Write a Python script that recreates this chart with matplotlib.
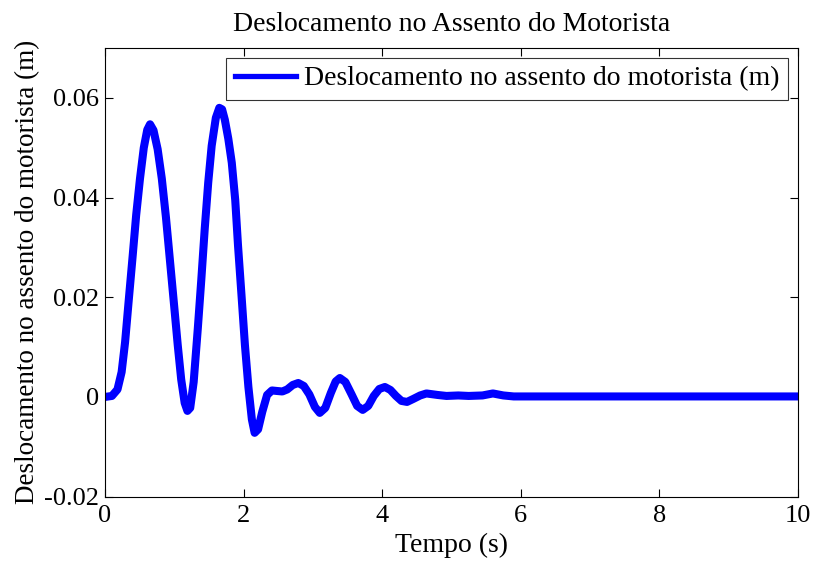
import matplotlib
matplotlib.use("Agg")
import matplotlib.pyplot as plt
from matplotlib.lines import Line2D

plt.rcParams['font.family'] = ['Liberation Serif', 'DejaVu Serif']

time_s = [0.0, 0.10, 0.18, 0.24, 0.29, 0.34, 0.40, 0.45, 0.505, 0.56, 0.61, 0.65,
          0.70, 0.76, 0.82, 0.88, 0.94, 1.00, 1.05, 1.10, 1.15, 1.19, 1.23, 1.28,
          1.34, 1.39, 1.44, 1.49, 1.54, 1.60, 1.65, 1.69, 1.73, 1.78, 1.83, 1.88,
          1.92, 1.97, 2.02, 2.07, 2.12, 2.16, 2.21, 2.27, 2.34, 2.41, 2.48, 2.56,
          2.63, 2.71, 2.79, 2.87, 2.95, 3.03, 3.10, 3.18, 3.26, 3.33, 3.39, 3.47,
          3.56, 3.64, 3.72, 3.80, 3.88, 3.96, 4.04, 4.12, 4.20, 4.28, 4.36, 4.45,
          4.55, 4.64, 4.80, 4.93, 5.10, 5.25, 5.45, 5.60, 5.75, 5.90, 6.2, 7.0,
          8.0, 9.0, 10.0]
desloc_m = [0.0, 0.0002, 0.0015, 0.005, 0.011, 0.019, 0.0284, 0.0365, 0.0438, 0.0500,
            0.0536, 0.0547, 0.0535, 0.0497, 0.0438, 0.0360, 0.0270, 0.0180, 0.0104,
            0.0035, -0.0012, -0.0028, -0.0022, 0.0030, 0.0138, 0.0235, 0.0338,
            0.0430, 0.0504, 0.0560, 0.0580, 0.0577, 0.0556, 0.0518, 0.0470, 0.0395,
            0.0304, 0.0205, 0.0104, 0.0020, -0.0045, -0.0072, -0.0065, -0.0030,
            0.0004, 0.0013, 0.0012, 0.0011, 0.0015, 0.0024, 0.0028, 0.0022, 0.0005,
            -0.0020, -0.0032, -0.0022, 0.0008, 0.0031, 0.0038, 0.0030, 0.0005,
            -0.0018, -0.0026, -0.0018, 0.0002, 0.0016, 0.0020, 0.0014, 0.0002,
            -0.0008, -0.0010, -0.0004, 0.0003, 0.0007, 0.0004, 0.0002, 0.0003,
            0.0002, 0.0003, 0.0007, 0.0003, 0.0001, 0.0001, 0.0001, 0.0001,
            0.0001, 0.0001]

x_ticks = [0, 2, 4, 6, 8, 10]
y_ticks = [-0.02, 0, 0.02, 0.04, 0.06]
y_ticklabels = ['-0.02', '0', '0.02', '0.04', '0.06']

fig = plt.figure(figsize=(8.14, 5.65), dpi=100)
ax = fig.add_axes([0.129, 0.121, 0.851, 0.794])

ax.plot(time_s, desloc_m, color='#0000ff', lw=5.8, solid_joinstyle='round',
        solid_capstyle='round')

ax.set_xlim(0, 10)
ax.set_ylim(-0.02, 0.07)
ax.set_xticks(x_ticks)
ax.set_yticks(y_ticks)
ax.set_yticklabels(y_ticklabels)
ax.tick_params(direction='in', top=True, right=True, labelsize=19, length=6,
               width=0.8)
ax.tick_params(axis='x', pad=6)
ax.tick_params(axis='y', pad=4)
for s in ax.spines.values():
    s.set_linewidth(0.8)

ax.set_title('Deslocamento no Assento do Motorista', fontsize=20, pad=12)
ax.set_xlabel('Tempo (s)', fontsize=20, labelpad=4)
ax.set_ylabel('Deslocamento no assento do motorista (m)', fontsize=19.5, labelpad=3)

handle = Line2D([0], [0], color='#0000ff', lw=3.8)
leg = ax.legend([handle], ['Deslocamento no assento do motorista (m)'],
                loc='upper right', fontsize=20, frameon=True, fancybox=False,
                edgecolor='black', handlelength=2.2, handletextpad=0.3,
                borderaxespad=0.35, borderpad=0.3)
leg.get_frame().set_linewidth(0.8)

fig.savefig('out.png', dpi=100)
